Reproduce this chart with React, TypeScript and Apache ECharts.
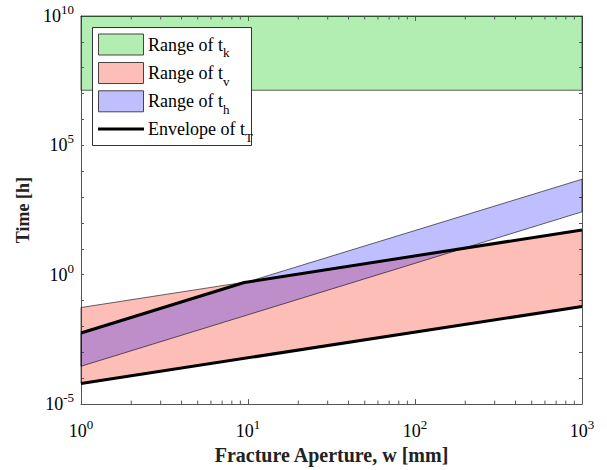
import React, { useEffect, useRef } from "react";
import * as echarts from "echarts";

// Fracture aperture end points [mm]
const apertureEnds = [1, 1000];
// Range of t_k [h]
const tkLower = [1.35e7, 1.35e7];
const tkUpper = [1e10, 1e10];
// Range of t_v [h]
const tvLower = [6.3e-5, 0.059];
const tvUpper = [0.054, 54];
// Range of t_h [h]
const thLower = [2.9e-4, 270];
const thUpper = [5.6e-3, 4900];
// Envelope of t_T
const envUpperW = [1, 9.5, 1000];
const envUpperT = [5.6e-3, 0.5, 54];
const envLowerW = [1, 1000];
const envLowerT = [6.3e-5, 0.059];
// Minor tick positions on the aperture axis
const xMinorTicks = [2, 3, 4, 5, 6, 7, 8, 9, 20, 30, 40, 50, 60, 70, 80, 90, 200, 300, 400, 500, 600, 700, 800, 900];

const FONT = "'Liberation Serif', 'Times New Roman', serif";
const AXIS_COLOR = "#555555";
const GREEN = "rgba(0,200,0,0.3)";
const RED = "rgba(250,40,20,0.3)";
const BLUE = "rgba(0,0,255,0.25)";

const lg = (v: number) => Math.log10(v);

function bandSeries(name: string, lower: number[], upper: number[], fill: string) {
  return {
    type: "custom",
    name,
    coordinateSystem: "cartesian2d",
    data: [[0, 0]],
    silent: true,
    renderItem: (_params: any, api: any) => {
      const pts: number[][] = [];
      apertureEnds.forEach((w, i) => pts.push(api.coord([lg(w), lg(upper[i])])));
      for (let i = apertureEnds.length - 1; i >= 0; i--) {
        pts.push(api.coord([lg(apertureEnds[i]), lg(lower[i])]));
      }
      return {
        type: "polygon",
        shape: { points: pts },
        style: { fill, stroke: "#000", lineWidth: 0.6 },
      };
    },
  };
}

const powRich = {
  b: { fontSize: 18, fontFamily: FONT, color: "#000" },
  s: { fontSize: 13, fontFamily: FONT, color: "#000", padding: [0, 0, 13, 0] },
};

export default function App() {
  const ref = useRef<HTMLDivElement>(null);
  useEffect(() => {
    if (!ref.current) return;
    const chart = echarts.init(ref.current, undefined, { renderer: "svg" });
    const axisCommon = {
      type: "value",
      axisLine: { show: true, onZero: false, lineStyle: { color: AXIS_COLOR, width: 1 } },
      splitLine: { show: false },
    };
    const legendY = [44.5, 73, 101.3, 129];
    const legendTexts = [
      ["Range of t", "k"],
      ["Range of t", "v"],
      ["Range of t", "h"],
      ["Envelope of t", "T"],
    ];
    const legendFills = [GREEN, RED, BLUE];
    const graphic: any[] = [
      {
        type: "rect",
        z: 100,
        shape: { x: 92.5, y: 27.5, width: 159, height: 118 },
        style: { fill: "#fff", stroke: "#333", lineWidth: 1 },
      },
    ];
    legendFills.forEach((f, i) => {
      graphic.push({
        type: "rect",
        z: 101,
        shape: { x: 98.5, y: legendY[i] - 10.5, width: 45, height: 21 },
        style: { fill: f, stroke: "#444", lineWidth: 1 },
      });
    });
    graphic.push({
      type: "line",
      z: 101,
      shape: { x1: 98, y1: legendY[3], x2: 144, y2: legendY[3] },
      style: { stroke: "#000", lineWidth: 3 },
    });
    legendTexts.forEach((t, i) => {
      graphic.push({
        type: "text",
        z: 101,
        x: 148,
        y: legendY[i],
        style: {
          text: `{a|${t[0]}}{s|${t[1]}}`,
          verticalAlign: "middle",
          align: "left",
          rich: {
            a: { fontSize: 18, fontFamily: FONT, fill: "#000", color: "#000" },
            s: { fontSize: 13, fontFamily: FONT, fill: "#000", color: "#000", padding: [16, 0, 0, 0] },
          },
        },
      });
    });

    const option: any = {
      animation: false,
      backgroundColor: "#fff",
      grid: { left: 81, right: 25, top: 16, bottom: 64, containLabel: false },
      xAxis: [
        {
          ...axisCommon,
          position: "bottom",
          min: 0,
          max: 3,
          interval: 1,
          name: "Fracture Aperture, w [mm]",
          nameLocation: "middle",
          nameGap: 39,
          nameTextStyle: { fontFamily: FONT, fontSize: 20, fontWeight: "bold", color: "#222" },
          axisTick: { show: true, inside: true, length: 5, lineStyle: { color: AXIS_COLOR } },
          axisLabel: {
            margin: 14,
            formatter: (v: number) => `{b|10}{s|${Math.round(v)}}`,
            rich: powRich,
          },
        },
        {
          ...axisCommon,
          position: "top",
          min: 0,
          max: 3,
          interval: 1,
          axisTick: { show: true, inside: true, length: 5, lineStyle: { color: AXIS_COLOR } },
          axisLabel: { show: false },
        },
      ],
      yAxis: [
        {
          ...axisCommon,
          position: "left",
          min: -5,
          max: 10,
          interval: 1,
          name: "Time [h]",
          nameLocation: "middle",
          nameGap: 46,
          nameTextStyle: { fontFamily: FONT, fontSize: 18, fontWeight: "bold", color: "#222" },
          axisTick: { show: true, inside: true, length: 3, lineStyle: { color: AXIS_COLOR } },
          axisLabel: {
            margin: 7,
            formatter: (v: number) => {
              const e = Math.round(v);
              return e % 5 === 0 ? `{b|10}{s|${e}}` : "";
            },
            rich: powRich,
          },
        },
        {
          ...axisCommon,
          position: "right",
          min: -5,
          max: 10,
          interval: 1,
          axisTick: { show: true, inside: true, length: 3, lineStyle: { color: AXIS_COLOR } },
          axisLabel: { show: false },
        },
      ],
      series: [
        bandSeries("Range of t_k", tkLower, tkUpper, GREEN),
        bandSeries("Range of t_v", tvLower, tvUpper, RED),
        bandSeries("Range of t_h", thLower, thUpper, BLUE),
        {
          type: "line",
          name: "Envelope of t_T",
          data: envUpperW.map((w, i) => [lg(w), lg(envUpperT[i])]),
          showSymbol: false,
          symbol: "none",
          lineStyle: { color: "#000", width: 3 },
          silent: true,
          z: 5,
        },
        {
          type: "line",
          name: "Envelope of t_T",
          data: envLowerW.map((w, i) => [lg(w), lg(envLowerT[i])]),
          showSymbol: false,
          symbol: "none",
          lineStyle: { color: "#000", width: 3 },
          silent: true,
          z: 5,
        },
        {
          type: "custom",
          name: "minor ticks",
          coordinateSystem: "cartesian2d",
          silent: true,
          z: 6,
          data: xMinorTicks.map((w) => [lg(w), -5]),
          renderItem: (_params: any, api: any) => {
            const b = api.coord([api.value(0), -5]);
            const t = api.coord([api.value(0), 10]);
            return {
              type: "group",
              children: [
                { type: "line", shape: { x1: b[0], y1: b[1], x2: b[0], y2: b[1] - 3.5 }, style: { stroke: AXIS_COLOR, lineWidth: 1 } },
                { type: "line", shape: { x1: t[0], y1: t[1], x2: t[0], y2: t[1] + 3.5 }, style: { stroke: AXIS_COLOR, lineWidth: 1 } },
              ],
            };
          },
        },
      ],
      graphic,
    };
    chart.setOption(option);
    return () => chart.dispose();
  }, []);
  return (
    <div
      ref={ref}
      style={{ position: "fixed", left: 0, top: 0, width: 607, height: 470, background: "#fff" }}
    />
  );
}
